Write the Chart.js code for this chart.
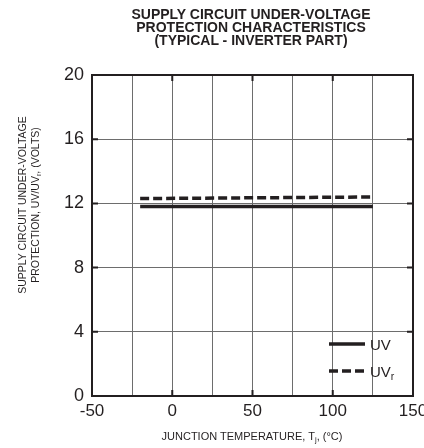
<!DOCTYPE html>
<html><head><meta charset="utf-8">
<script src="https://cdn.jsdelivr.net/npm/chart.js@4"></script>
<style>
html,body{margin:0;padding:0;background:#fff;overflow:hidden}
#w{position:relative;width:424px;height:448px;font-family:"Liberation Sans",Arial,Helvetica,sans-serif;color:#231f20}
canvas{display:block;position:absolute;left:0;top:0}
.t{position:absolute;white-space:nowrap;line-height:1}
.c{transform:translateX(-50%)}
sub{font-size:70%;vertical-align:-0.25em;line-height:0}
#title{left:251px;top:8px;font-weight:bold;font-size:14px;line-height:13px;text-align:center;transform:translateX(-50%)}
#xt{left:252px;top:431px;font-size:11px}
.yt{top:205px;font-size:10.5px;transform:translate(-50%,-50%) rotate(-90deg)}
#yt1{left:22px}
#yt2{left:35px}
.lg{font-size:15px;left:370px}
</style>
</head><body><div id="w"><canvas id="c" width="424" height="448"></canvas>
<div id="title" class="t">SUPPLY CIRCUIT UNDER-VOLTAGE<br>PROTECTION CHARACTERISTICS<br>(TYPICAL - INVERTER PART)</div>
<div id="xt" class="t c">JUNCTION TEMPERATURE, T<sub>j</sub>, (°C)</div>
<div id="yt1" class="t yt">SUPPLY CIRCUIT UNDER-VOLTAGE</div>
<div id="yt2" class="t yt">PROTECTION, UV/UV<sub>r</sub>, (VOLTS)</div>
<div id="lg1" class="t lg" style="top:337px">UV</div>
<div id="lg2" class="t lg" style="top:364px">UV<sub>r</sub></div>
</div>
<script>
const temps = [-20, 125];
const uvValues = [11.8, 11.8];
const uvrValues = [12.3, 12.4];
const xTickLabels = [-50, 0, 50, 100, 150];
const yTickLabels = [0, 4, 8, 12, 16, 20];
const FONT = '"Liberation Sans", Arial, Helvetica, sans-serif';
const INK = '#231f20';

const deco = {
  id: 'deco',
  afterDraw(chart) {
    const ctx = chart.ctx, a = chart.chartArea;
    const xs = chart.scales.x, ys = chart.scales.y;
    ctx.save();
    ctx.strokeStyle = INK;
    ctx.lineWidth = 2;
    ctx.strokeRect(a.left, a.top, a.right - a.left, a.bottom - a.top);
    ctx.beginPath();
    xTickLabels.forEach(v => {
      const px = xs.getPixelForValue(v);
      ctx.moveTo(px, a.bottom); ctx.lineTo(px, a.bottom - 6);
      ctx.moveTo(px, a.top); ctx.lineTo(px, a.top + 6);
    });
    yTickLabels.forEach(v => {
      const py = ys.getPixelForValue(v);
      ctx.moveTo(a.left, py); ctx.lineTo(a.left + 6, py);
      ctx.moveTo(a.right, py); ctx.lineTo(a.right - 6, py);
    });
    ctx.stroke();
    // legend samples, styled from the datasets
    chart.data.datasets.forEach((ds, i) => {
      const y = a.bottom - 52 + i * 27;
      ctx.lineWidth = ds.borderWidth;
      ctx.setLineDash(ds.borderDash || []);
      ctx.beginPath(); ctx.moveTo(a.right - 84, y); ctx.lineTo(a.right - 48, y); ctx.stroke();
    });
    ctx.restore();
  }
};

new Chart(document.getElementById('c'), {
  type: 'scatter',
  data: {
    datasets: [
      { label: 'UV', data: temps.map((t, i) => ({ x: t, y: uvValues[i] })), showLine: true,
        borderColor: INK, borderWidth: 3.5, pointRadius: 0 },
      { label: 'UVr', data: temps.map((t, i) => ({ x: t, y: uvrValues[i] })), showLine: true,
        borderColor: INK, borderWidth: 3.5, borderDash: [9, 4], pointRadius: 0 }
    ]
  },
  options: {
    responsive: false, animation: false, devicePixelRatio: 1,
    layout: { padding: { left: 0, right: 11, top: 75, bottom: 0 } },
    plugins: { legend: { display: false }, tooltip: { enabled: false } },
    scales: {
      x: {
        type: 'linear', min: -50, max: 150,
        afterFit(s) { s.height = 52; s.paddingLeft = 0; s.paddingRight = 0; },
        ticks: { stepSize: 25, padding: 5, color: INK, font: { family: FONT, size: 17 },
          callback: v => (xTickLabels.includes(v) ? String(v) : ''), maxRotation: 0, autoSkip: false },
        grid: { color: '#6d6d6d', lineWidth: 1, drawTicks: false },
        border: { display: false }
      },
      y: {
        min: 0, max: 20,
        afterFit(s) { s.width = 92; s.paddingTop = 0; s.paddingBottom = 0; },
        ticks: { stepSize: 4, padding: 8, color: INK, font: { family: FONT, size: 18 },
          callback: v => (yTickLabels.includes(v) ? String(v) : '') },
        grid: { color: '#6d6d6d', lineWidth: 1, drawTicks: false },
        border: { display: false }
      }
    }
  },
  plugins: [deco]
});
</script></body></html>
